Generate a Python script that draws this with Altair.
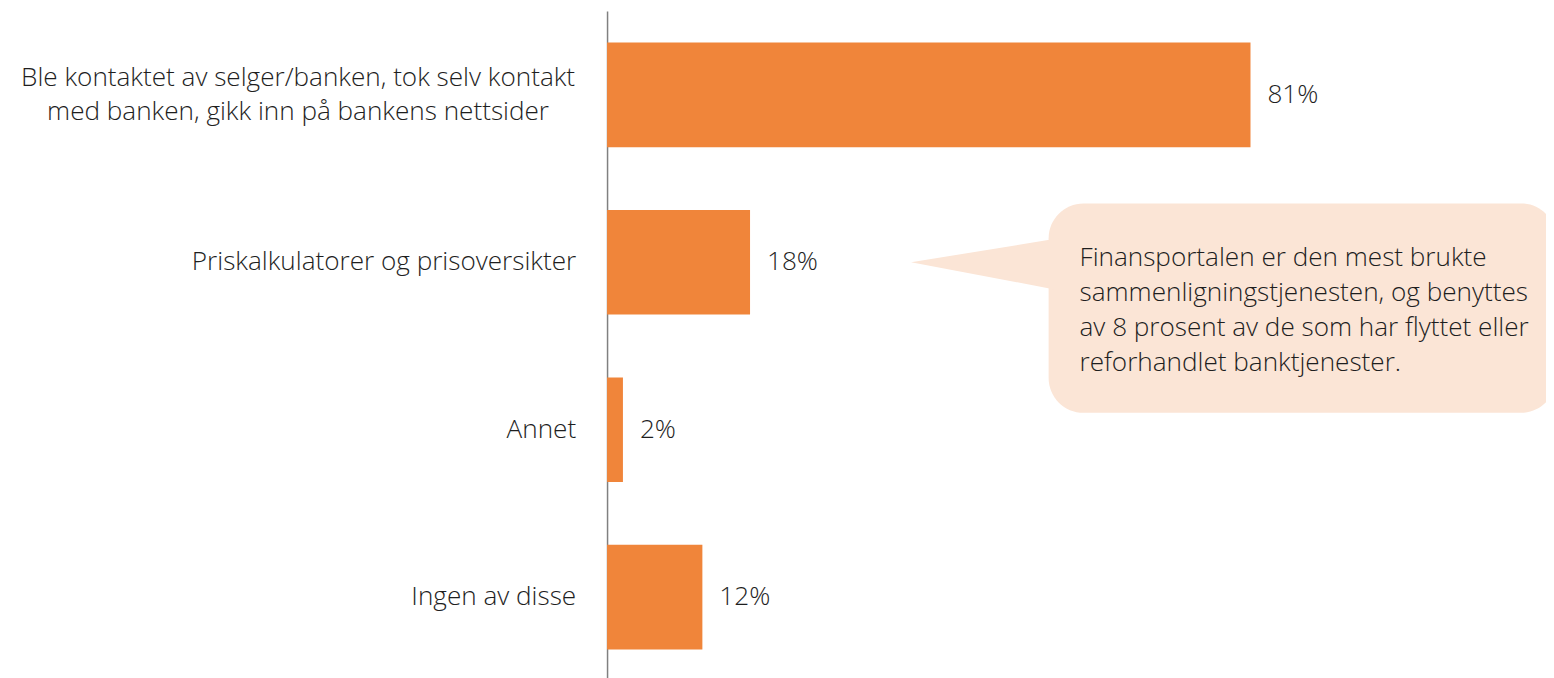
import altair as alt
import pandas as pd

categories = [
    "Ble kontaktet av selger/banken, tok selv kontakt\nmed banken, gikk inn på bankens nettsider",
    "Priskalkulatorer og prisoversikter",
    "Annet",
    "Ingen av disse",
]
values = [81, 18, 2, 12]
callout_text = [
    "Finansportalen er den mest brukte",
    "sammenligningstjenesten, og benyttes",
    "av 8 prosent av de som har flyttet eller",
    "reforhandlet banktjenester.",
]

FONT = "Open Sans"
FW = 300
FS = 26.2
BAR = "#F0853A"
BUBBLE = "#FBE5D6"
TXT = "#1e1e1e"

df = pd.DataFrame({
    "cat": categories,
    "val": values,
    "label": [f"{v}%" for v in values],
    "multi": ["\n" in c for c in categories],
})

W = 942
H = 672
y_enc = alt.Y("cat:N", sort=categories, title=None,
              scale=alt.Scale(paddingInner=0.375, paddingOuter=0.1875),
              axis=alt.Axis(labels=False, ticks=False, domain=True, grid=False,
                            domainColor="#808080", domainWidth=1.5))
x_enc = alt.X("val:Q", scale=alt.Scale(domain=[0, 118.2], nice=False), axis=None, title=None)

base = alt.Chart(df)

bars = base.mark_bar(color=BAR).encode(x=x_enc, y=y_enc)

vals = base.mark_text(align="left", baseline="middle", dx=17, font=FONT,
                      fontSize=FS, fontWeight=FW, color=TXT).encode(
    x=x_enc, y=alt.Y("cat:N", sort=categories), text="label:N")

lab_single = base.transform_filter("!datum.multi").mark_text(
    align="right", baseline="middle", font=FONT, fontSize=FS, fontWeight=FW,
    color=TXT).encode(x=alt.value(-31), y=alt.Y("cat:N", sort=categories), text="cat:N")

lab_multi = base.transform_filter("datum.multi").mark_text(
    align="center", baseline="middle", font=FONT, fontSize=FS, fontWeight=FW,
    lineBreak="\n", lineHeight=34, dy=-17, color=TXT).encode(
    x=alt.value(-310), y=alt.Y("cat:N", sort=categories), text="cat:N")

ann = pd.DataFrame({"t": ["\n".join(callout_text)]})
abase = alt.Chart(ann)

bubble = abase.mark_rect(color=BUBBLE, cornerRadius=35).encode(
    x=alt.value(443), x2=alt.value(952), y=alt.value(193), y2=alt.value(403))

pointer = abase.mark_point(
    shape="M -0.925 -0.025 L 0.925 -0.325 L 0.925 0.325 Z",
    filled=True, color=BUBBLE, opacity=1, size=25600, strokeWidth=0).encode(
    x=alt.value(379), y=alt.value(254))

btxt = abase.mark_text(align="left", baseline="middle", font=FONT, fontSize=FS,
                       fontWeight=FW, lineBreak="\n", lineHeight=35, color=TXT).encode(
    x=alt.value(474), y=alt.value(248), text="t:N")

chart = alt.layer(bars, vals, lab_single, lab_multi, bubble, pointer, btxt).properties(
    width=W, height=H,
    background="white",
    padding={"left": 601, "top": 2, "right": 0, "bottom": 0},
    autosize=alt.AutoSizeParams(type="none"),
).configure_view(stroke=None, strokeWidth=0)

chart.save("out.html", embed_options={"renderer": "svg", "actions": False})
